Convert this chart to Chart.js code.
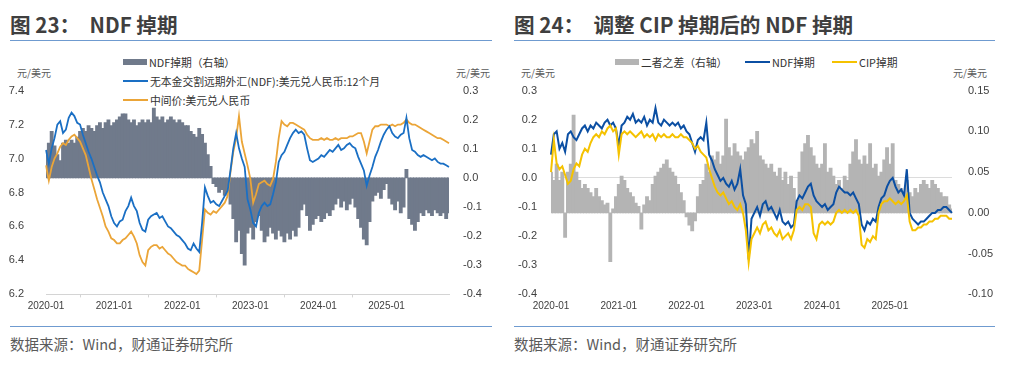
<!DOCTYPE html>
<html>
<head>
<meta charset="utf-8">
<script src="https://cdn.jsdelivr.net/npm/chart.js@4.4.1/dist/chart.umd.min.js"></script>
<style>
  html, body { margin: 0; padding: 0; background: #fff; }
  body { width: 1024px; height: 369px; position: relative; overflow: hidden; font-family: "Noto Sans CJK SC", sans-serif; }
  .title { position: absolute; top: 11px; font-size: 20.6px; line-height: 26px; font-weight: bold; color: #3f3f3f; white-space: nowrap; }
  .rule { position: absolute; height: 0; border-top: 1.5px solid #6f9bd0; }
  .source { position: absolute; top: 334px; font-size: 14.5px; line-height: 20px; color: #5a5a5a; white-space: nowrap; }
  .unit { position: absolute; top: 67px; font-size: 10px; line-height: 12px; color: #5a5a5a; white-space: nowrap; }
  .legend { position: absolute; font-size: 10.8px; line-height: 12px; color: #333; display: flex; align-items: center; white-space: nowrap; }
  .sw-bar { width: 24px; height: 6px; margin-right: 2px; }
  .sw-line { width: 25px; height: 2px; margin-right: 2px; }
  .box { position: absolute; top: 70px; width: 500px; height: 245px; }
</style>
</head>
<body>
  <div class="title" style="left:10px">图 23：&nbsp;&nbsp;NDF 掉期</div>
  <div class="rule" style="left:10px; top:40px; width:482px"></div>
  <div class="title" style="left:514px">图 24：&nbsp;&nbsp;调整 CIP 掉期后的 NDF 掉期</div>
  <div class="rule" style="left:514px; top:40px; width:481px"></div>

  <div class="legend" style="left:123px; top:56px"><span class="sw-bar" style="background:#707a8b"></span>NDF掉期（右轴）</div>
  <div class="legend" style="left:123px; top:75px"><span class="sw-line" style="background:#1a6fc4"></span>无本金交割远期外汇(NDF):美元兑人民币:12个月</div>
  <div class="legend" style="left:123px; top:94px"><span class="sw-line" style="background:#eba538"></span>中间价:美元兑人民币</div>
  <div class="unit" style="left:17px">元/美元</div>
  <div class="unit" style="left:456px">元/美元</div>

  <div class="legend" style="left:615px; top:56px"><span class="sw-bar" style="background:#b4b4b4"></span>二者之差（右轴）</div>
  <div class="legend" style="left:745px; top:56px"><span class="sw-line" style="background:#0b4fa3"></span>NDF掉期</div>
  <div class="legend" style="left:832px; top:56px"><span class="sw-line" style="background:#f5c200"></span>CIP掉期</div>
  <div class="unit" style="left:521px">元/美元</div>
  <div class="unit" style="left:953px">元/美元</div>

  <div class="box" style="left:0px"><canvas id="ndfChart"></canvas></div>
  <div class="box" style="left:512px"><canvas id="cipChart"></canvas></div>

  <div class="rule" style="left:10px; top:326px; width:482px"></div>
  <div class="source" style="left:10px">数据来源：Wind，财通证券研究所</div>
  <div class="rule" style="left:514px; top:326px; width:481px"></div>
  <div class="source" style="left:514px">数据来源：Wind，财通证券研究所</div>

<script>
// half-month dates, 2020-01-01 .. 2025-12-01
const dates = [];
for (let y = 2020; y <= 2025; y++) {
  for (let m = 1; m <= 12; m++) {
    const mm = String(m).padStart(2, "0");
    dates.push(`${y}-${mm}-01`);
    if (y === 2025 && m === 12) break;
    dates.push(`${y}-${mm}-16`);
  }
}

// Fig 23 (left axis, CNY per USD)
const ndf12m = [
  7.05, 6.97, 7.06, 7.12, 7.20, 7.22, 7.15, 7.17, 7.24, 7.27, 7.25, 7.21, 7.20, 7.14, 7.09, 7.04, 7.00, 6.95, 6.90, 6.86, 6.80, 6.76, 6.72, 6.66,
  6.62, 6.60, 6.63, 6.64, 6.69, 6.72, 6.77, 6.72, 6.69, 6.62, 6.58, 6.57, 6.64, 6.66, 6.67, 6.68, 6.65, 6.66, 6.63, 6.60, 6.59, 6.57, 6.55, 6.54,
  6.52, 6.50, 6.47, 6.46, 6.50, 6.47, 6.45, 6.62, 6.83, 6.78, 6.74, 6.75, 6.73, 6.72, 6.75, 6.78, 6.81, 6.93, 7.06, 7.15, 7.06, 7.00, 6.95, 6.76,
  6.70, 6.62, 6.60, 6.68, 6.72, 6.74, 6.72, 6.73, 6.79, 6.86, 6.98, 7.02, 7.04, 7.08, 7.12, 7.15, 7.17, 7.15, 7.16, 7.14, 7.06, 6.99, 6.98, 6.99,
  7.00, 7.02, 7.01, 7.03, 7.05, 7.04, 7.06, 7.08, 7.05, 7.06, 7.08, 7.09, 7.07, 7.06, 7.01, 6.97, 6.93, 6.84, 6.90, 6.95, 7.01, 7.05, 7.10, 7.14,
  7.17, 7.19, 7.15, 7.13, 7.12, 7.14, 7.15, 7.24, 7.12, 7.05, 7.04, 7.02, 7.01, 7.02, 7.01, 7.00, 6.99, 7.00, 6.98, 6.97, 6.97, 6.96, 6.95
];
const midRate = [
  6.96, 6.87, 6.95, 7.00, 7.03, 7.07, 7.09, 7.08, 7.11, 7.13, 7.14, 7.12, 7.10, 7.06, 7.02, 6.95, 6.88, 6.82, 6.76, 6.71, 6.66, 6.60, 6.57, 6.53,
  6.52, 6.50, 6.50, 6.52, 6.53, 6.55, 6.57, 6.54, 6.50, 6.43, 6.39, 6.37, 6.46, 6.48, 6.49, 6.49, 6.47, 6.48, 6.46, 6.44, 6.43, 6.41, 6.39, 6.38,
  6.37, 6.37, 6.35, 6.34, 6.33, 6.32, 6.34, 6.52, 6.70, 6.68, 6.67, 6.69, 6.68, 6.70, 6.72, 6.74, 6.78, 6.92, 7.04, 7.12, 7.25, 7.10, 7.03, 6.96,
  6.88, 6.74, 6.79, 6.85, 6.86, 6.87, 6.85, 6.84, 6.88, 6.98, 7.12, 7.22, 7.20, 7.19, 7.21, 7.21, 7.20, 7.19, 7.18, 7.17, 7.14, 7.12, 7.11, 7.11,
  7.11, 7.12, 7.11, 7.12, 7.11, 7.11, 7.12, 7.11, 7.12, 7.12, 7.12, 7.13, 7.13, 7.14, 7.15, 7.15, 7.10, 7.03, 7.10, 7.17, 7.19, 7.19, 7.20, 7.20,
  7.20, 7.19, 7.20, 7.19, 7.20, 7.20, 7.21, 7.23, 7.21, 7.20, 7.20, 7.19, 7.18, 7.17, 7.16, 7.15, 7.14, 7.13, 7.12, 7.12, 7.11, 7.10, 7.09
];
// Fig 23 (right axis)
const ndfSwap = [
  0.09, 0.12, 0.16, 0.11, 0.08, 0.06, 0.12, 0.13, 0.12, 0.13, 0.12, 0.14, 0.16, 0.17, 0.16, 0.18, 0.17, 0.16, 0.18, 0.19, 0.17, 0.19, 0.20, 0.18,
  0.19, 0.20, 0.21, 0.22, 0.22, 0.20, 0.19, 0.20, 0.18, 0.19, 0.20, 0.19, 0.20, 0.19, 0.24, 0.21, 0.20, 0.21, 0.19, 0.20, 0.21, 0.20, 0.19, 0.20,
  0.19, 0.18, 0.18, 0.16, 0.15, 0.14, 0.17, 0.15, 0.12, 0.08, 0.04, -0.02, -0.03, -0.05, -0.04, -0.06, -0.05, -0.09, -0.14, -0.22, -0.18, -0.26, -0.30, -0.19,
  -0.17, -0.21, -0.15, -0.13, -0.18, -0.22, -0.20, -0.17, -0.19, -0.21, -0.18, -0.20, -0.22, -0.19, -0.21, -0.18, -0.20, -0.17, -0.11, -0.09, -0.13, -0.18, -0.16, -0.14,
  -0.13, -0.15, -0.14, -0.12, -0.13, -0.11, -0.09, -0.07, -0.10, -0.08, -0.11, -0.09, -0.07, -0.10, -0.14, -0.17, -0.21, -0.23, -0.15, -0.08, -0.06, -0.05, -0.07, -0.04,
  -0.02, -0.07, -0.09, -0.11, -0.08, -0.12, -0.10, 0.03, -0.14, -0.16, -0.18, -0.15, -0.12, -0.13, -0.11, -0.12, -0.13, -0.11, -0.12, -0.13, -0.12, -0.14, -0.12
];

// Fig 24 (left axis)
const ndfAdj = [
  0.08, 0.15, 0.16, 0.10, 0.12, 0.09, 0.15, 0.16, 0.14, 0.13, 0.15, 0.17, 0.18, 0.16, 0.18, 0.17, 0.19, 0.18, 0.17, 0.19, 0.20, 0.18, 0.19, 0.17,
  0.11, 0.18, 0.19, 0.21, 0.20, 0.22, 0.19, 0.20, 0.19, 0.21, 0.18, 0.20, 0.19, 0.24, 0.19, 0.18, 0.20, 0.19, 0.18, 0.19, 0.18, 0.19, 0.17, 0.18,
  0.16, 0.15, 0.12, 0.09, 0.13, 0.14, 0.13, 0.19, 0.08, 0.06, 0.03, 0.01, -0.01, 0.00, -0.02, -0.03, -0.01, -0.04, -0.02, 0.03, -0.06, -0.09, -0.28, -0.14,
  -0.12, -0.10, -0.13, -0.09, -0.08, -0.11, -0.10, -0.12, -0.14, -0.11, -0.15, -0.16, -0.15, -0.17, -0.16, -0.08, -0.06, -0.07, -0.05, -0.03, -0.02, -0.06, -0.08, -0.09,
  -0.10, -0.09, -0.11, -0.10, -0.09, -0.05, -0.03, -0.04, -0.05, -0.05, -0.06, -0.05, -0.07, -0.09, -0.16, -0.18, -0.15, -0.16, -0.14, -0.15, -0.10, -0.07, -0.06, -0.03,
  -0.01, 0.00, -0.03, -0.05, -0.04, -0.06, 0.03, -0.12, -0.14, -0.15, -0.16, -0.15, -0.15, -0.14, -0.13, -0.12, -0.12, -0.11, -0.11, -0.10, -0.10, -0.11, -0.12
];
const cipSwap = [
  0.02, 0.13, 0.05, 0.03, 0.04, 0.01, -0.02, -0.01, 0.03, 0.05, 0.04, 0.08, 0.10, 0.09, 0.12, 0.14, 0.15, 0.14, 0.16, 0.15, 0.17, 0.18, 0.16, 0.17,
  0.08, 0.15, 0.16, 0.15, 0.16, 0.15, 0.14, 0.15, 0.16, 0.14, 0.15, 0.14, 0.15, 0.13, 0.15, 0.14, 0.15, 0.14, 0.14, 0.15, 0.14, 0.14, 0.15, 0.14,
  0.14, 0.13, 0.12, 0.10, 0.11, 0.09, 0.08, 0.07, 0.03, 0.00, -0.03, -0.05, -0.06, -0.05, -0.07, -0.09, -0.08, -0.10, -0.11, -0.09, -0.12, -0.18, -0.29, -0.21,
  -0.19, -0.17, -0.19, -0.16, -0.15, -0.18, -0.17, -0.19, -0.20, -0.18, -0.21, -0.20, -0.19, -0.21, -0.18, -0.11, -0.10, -0.11, -0.09, -0.09, -0.10, -0.19, -0.21, -0.16,
  -0.15, -0.16, -0.15, -0.16, -0.15, -0.12, -0.11, -0.12, -0.11, -0.12, -0.11, -0.12, -0.11, -0.13, -0.23, -0.24, -0.21, -0.22, -0.20, -0.21, -0.12, -0.09, -0.08, -0.08,
  -0.07, -0.08, -0.09, -0.08, -0.09, -0.08, -0.06, -0.15, -0.18, -0.18, -0.17, -0.17, -0.16, -0.16, -0.15, -0.15, -0.14, -0.14, -0.13, -0.13, -0.13, -0.14, -0.14
];
// Fig 24 (right axis)
const swapGap = [
  0.05, 0.04, 0.06, 0.04, 0.05, -0.03, 0.05, 0.06, 0.12, 0.05, 0.04, 0.03, 0.035, 0.03, 0.025, 0.02, 0.03, 0.02, 0.015, 0.01, 0.012, -0.06, 0.005, 0.02,
  0.035, 0.045, 0.04, 0.03, 0.025, 0.02, 0.012, 0.008, -0.02, 0.01, 0.02, 0.015, 0.035, 0.045, 0.05, 0.055, 0.06, 0.065, 0.055, 0.05, 0.045, 0.035, 0.025, 0.015,
  -0.005, -0.015, -0.022, -0.01, 0.02, 0.035, 0.04, 0.06, 0.05, 0.07, 0.065, 0.075, 0.06, 0.07, 0.115, 0.08, 0.07, 0.085, 0.075, 0.07, 0.065, 0.075, 0.08, 0.09,
  0.085, 0.1, 0.07, 0.065, 0.06, 0.055, 0.06, 0.05, 0.045, 0.055, 0.04, 0.05, 0.035, 0.045, 0.03, 0.015, 0.05, 0.075, 0.085, 0.095, 0.08, 0.07, 0.06, 0.055,
  0.06, 0.085, 0.05, 0.055, 0.045, 0.035, 0.04, 0.03, 0.045, 0.04, 0.06, 0.075, 0.09, 0.065, 0.06, 0.07, 0.06, 0.085, 0.055, 0.06, 0.045, 0.05, 0.065, 0.08,
  0.06, 0.085, 0.04, 0.035, 0.03, 0.02, 0.04, 0.025, 0.02, 0.03, 0.025, 0.035, 0.04, 0.035, 0.03, 0.04, 0.035, 0.03, 0.025, 0.02, 0.02, 0.01, 0.005
];

const ndfTicksLeft = { min: 6.2, max: 7.4, step: 0.2 };
const ndfTicksRight = { min: -0.4, max: 0.3, step: 0.1 };
const cipTicksLeft = { min: -0.4, max: 0.3, step: 0.1 };
const cipTicksRight = { min: -0.1, max: 0.15, step: 0.05 };

const tickFont = { family: "'Liberation Sans', Arial, sans-serif", size: 11 };
const tickColor = "#404040";

const xAxis = (showLine) => ({
  type: "category",
  offset: false,
  afterFit: (s) => { s.height = 20; },
  border: { display: showLine, color: "#d4d4d4" },
  grid: {
    drawOnChartArea: false,
    drawTicks: true,
    tickLength: 3,
    color: (ctx) => (showLine && ctx.tick && ctx.tick.label ? "#d4d4d4" : "transparent"),
  },
  ticks: {
    autoSkip: false,
    maxRotation: 0,
    padding: 3,
    color: tickColor,
    font: { family: tickFont.family, size: 10 },
    callback: function (val) {
      const label = this.getLabelForValue(val);
      return label.endsWith("-01-01") ? label.slice(0, 7) : null;
    },
  },
});

const yAxis = (position, t, digits, width, pad, grid) => ({
  type: "linear",
  position,
  min: t.min,
  max: t.max,
  afterFit: (s) => { s.width = width; },
  border: { display: false },
  grid: grid || { display: false },
  ticks: {
    stepSize: t.step,
    padding: pad,
    color: tickColor,
    font: tickFont,
    callback: (v) => (Math.abs(v) < 1e-9 ? 0 : Number(v)).toFixed(digits),
  },
});

const baseOptions = {
  responsive: true,
  maintainAspectRatio: false,
  animation: false,
  layout: { padding: { top: 10, right: 0, bottom: 0, left: 0 } },
  plugins: { legend: { display: false }, tooltip: { enabled: false } },
  elements: { point: { radius: 0 }, line: { tension: 0 } },
};

new Chart(document.getElementById("ndfChart"), {
  data: {
    labels: dates,
    datasets: [
      { type: "line", label: "无本金交割远期外汇(NDF):美元兑人民币:12个月", data: ndf12m, yAxisID: "y",
        borderColor: "#1a6fc4", borderWidth: 1.8, order: 1 },
      { type: "line", label: "中间价:美元兑人民币", data: midRate, yAxisID: "y",
        borderColor: "#eba538", borderWidth: 1.8, order: 2 },
      { type: "bar", label: "NDF掉期（右轴）", data: ndfSwap, yAxisID: "y1",
        backgroundColor: "#707a8b", borderWidth: 0, barThickness: 3.2, order: 3 },
    ],
  },
  options: {
    ...baseOptions,
    scales: {
      x: xAxis(true),
      y: yAxis("left", ndfTicksLeft, 1, 46, 14),
      y1: yAxis("right", ndfTicksRight, 1, 51, 6),
    },
  },
});

new Chart(document.getElementById("cipChart"), {
  data: {
    labels: dates,
    datasets: [
      { type: "line", label: "CIP掉期", data: cipSwap, yAxisID: "y",
        borderColor: "#f5c200", borderWidth: 2, order: 1 },
      { type: "line", label: "NDF掉期", data: ndfAdj, yAxisID: "y",
        borderColor: "#0b4fa3", borderWidth: 2, order: 2 },
      { type: "bar", label: "二者之差（右轴）", data: swapGap, yAxisID: "y1",
        backgroundColor: "#b4b4b4", borderWidth: 0, barThickness: 3.2, order: 3 },
    ],
  },
  options: {
    ...baseOptions,
    scales: {
      x: xAxis(false),
      y: yAxis("left", cipTicksLeft, 1, 39, 14, {
        drawTicks: false,
        color: (ctx) => (ctx.tick && Math.abs(ctx.tick.value) < 1e-9 ? "#dcdcdc" : "transparent"),
      }),
      y1: yAxis("right", cipTicksRight, 2, 60, 8),
    },
  },
});
</script>
</body>
</html>
